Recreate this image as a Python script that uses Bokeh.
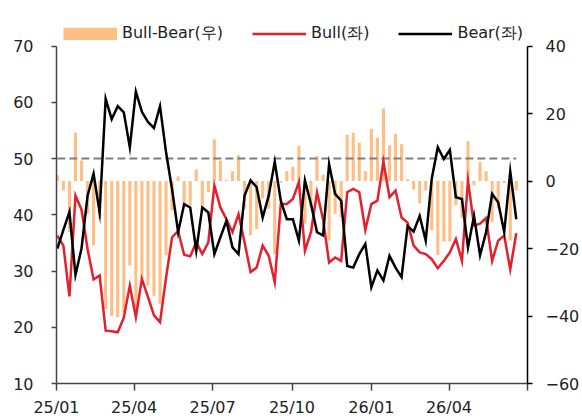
import numpy as np
import pandas as pd
from bokeh.plotting import figure
from bokeh.models import Range1d, LinearAxis, FixedTicker, Legend, LegendItem
from bokeh.embed import file_html
from bokeh.resources import INLINE

# weekly survey dates
dates = pd.date_range("2025-01-02", periods=77, freq="7D")

bull = [36.3, 34.5, 25.5, 43.4, 40.9, 33.9, 28.5, 29.2, 19.4, 19.3,
        19.1, 21.7, 27.4, 21.8, 28.6, 25.4, 22.1, 20.9, 28.8, 36.0,
        37.1, 32.9, 32.6, 35.1, 33.0, 35.1, 45.2, 41.3, 39.2, 36.9,
        40.1, 35.1, 29.8, 30.6, 34.5, 32.7, 28.0, 41.9, 41.9, 42.8,
        45.8, 33.6, 36.9, 44.0, 39.2, 31.5, 32.4, 31.8, 44.0, 44.6,
        44.0, 37.3, 41.9, 42.5, 49.4, 43.1, 44.3, 39.5, 38.6, 34.5,
        33.3, 33.0, 32.1, 30.5, 31.8, 33.3, 35.7, 31.8, 46.1, 38.1,
        38.4, 39.4, 31.8, 35.4, 36.3, 30.3, 36.7]

bear = [34.0, 37.3, 40.5, 29.3, 34.0, 43.4, 47.3, 40.4, 60.6, 57.0,
        59.3, 58.2, 52.0, 61.9, 58.3, 56.5, 55.4, 59.3, 51.1, 44.5,
        36.9, 41.9, 41.3, 33.6, 41.3, 40.4, 33.0, 36.0, 38.9, 34.2,
        33.0, 43.4, 46.1, 44.9, 39.5, 43.4, 49.4, 42.5, 39.2, 39.2,
        35.4, 46.1, 41.9, 36.9, 36.3, 49.0, 43.7, 42.5, 30.9, 30.6,
        33.0, 34.8, 27.1, 30.1, 28.3, 32.7, 30.6, 28.9, 38.0, 37.0,
        39.8, 35.4, 46.4, 52.0, 49.9, 51.5, 43.1, 42.8, 34.2, 39.8,
        32.8, 36.9, 43.7, 42.2, 36.9, 47.7, 39.2]

spread = [1.7, -2.8, -15.1, 14.3, 6.1, -9.7, -19.1, -11.3, -37.9, -39.9,
          -40.4, -38.9, -25.0, -38.9, -29.0, -31.0, -34.0, -36.4, -22.1, -8.7,
          1.3, -7.5, -7.2, 3.4, -7.2, -3.3, 12.3, 6.1, 0.4, 2.9,
          7.6, -8.2, -16.1, -14.2, -5.2, -8.2, -21.6, -0.5, 2.9, 4.2,
          10.4, -12.7, -7.7, 7.4, 1.9, -17.6, -9.7, -10.7, 13.6, 14.3,
          11.3, 2.9, 15.4, 12.8, 21.5, 10.6, 13.9, 10.9, 0.5, -2.5,
          -6.7, -2.8, -14.6, -21.9, -17.9, -17.9, -7.2, -11.0, 11.8, -1.3,
          5.6, 2.9, -12.2, -8.2, -0.6, -17.6, -2.8]

ref_level = 50
left_ticks = [10, 20, 30, 40, 50, 60, 70]
right_ticks = [-60, -40, -20, 0, 20, 40]
right_labels = ["\u221260", "\u221240", "\u221220", "0", "20", "40"]
quarter_starts = ["2025-01-01", "2025-04-01", "2025-07-01", "2025-10-01",
                  "2026-01-01", "2026-04-01", "2026-07-01"]
quarter_labels = ["25/01", "25/04", "25/07", "25/10", "26/01", "26/04", ""]

FONT = "DejaVu Sans"
BAR_COLOR = "#FFBE84"
RED = "#E3202B"

# layout: the frame reaches above the axes' top (70 / 40) to hold the legend
FRAME_H = 365
AXIS_PX = 337.5  # pixel length of the drawn axes
left_top = left_ticks[0] + (left_ticks[-1] - left_ticks[0]) * FRAME_H / AXIS_PX
right_top = right_ticks[0] + (right_ticks[-1] - right_ticks[0]) * FRAME_H / AXIS_PX

q_ms = [pd.Timestamp(d).value / 1e6 for d in quarter_starts]

p = figure(x_axis_type="datetime",
           x_range=Range1d(start=pd.Timestamp(quarter_starts[0]), end=pd.Timestamp(quarter_starts[-1])),
           y_range=Range1d(left_ticks[0], left_top),
           frame_width=471, frame_height=FRAME_H,
           min_border_left=56, min_border_top=18, min_border_right=5, min_border_bottom=5,
           toolbar_location=None, output_backend="svg")
p.extra_y_ranges = {"right": Range1d(right_ticks[0], right_top)}
p.xgrid.visible = False
p.ygrid.visible = False
p.outline_line_color = None
p.background_fill_color = "white"
p.border_fill_color = "white"

bar_w = 3.6 * 24 * 3600 * 1000
bars = p.vbar(x=dates, top=spread, bottom=0, width=bar_w, y_range_name="right",
              fill_color=BAR_COLOR, line_color=None)
p.line(x=[dates[0], dates[-1]], y=[ref_level, ref_level], line_color="#7F7F7F",
       line_width=2, line_dash="8 4")
bull_line = p.line(x=dates, y=bull, line_color=RED, line_width=2.5, line_join="miter")
bear_line = p.line(x=dates, y=bear, line_color="black", line_width=2.5, line_join="miter")
# legend swatch for the bars (a full-width block like the reference); draws nothing in the plot
bar_swatch = p.line(x=dates[:2], y=np.array([np.nan, np.nan]), line_color=BAR_COLOR,
                    line_width=12.5, line_cap="butt")

# left axis
ya = p.yaxis[0]
ya.bounds = (left_ticks[0], left_ticks[-1])
ya.ticker = FixedTicker(ticks=left_ticks)
ya.major_tick_out = 5
ya.major_tick_in = 0
ya.minor_tick_out = 0
ya.minor_tick_in = 0
ya.axis_line_color = "#444444"
ya.axis_line_width = 1.5
ya.major_tick_line_color = "#444444"
ya.major_tick_line_width = 1.5
ya.major_label_standoff = 18
ya.major_label_text_font = FONT
ya.major_label_text_font_size = "16px"
ya.major_label_text_color = "#222222"

# right axis
ra = LinearAxis(y_range_name="right", ticker=FixedTicker(ticks=right_ticks),
                bounds=(right_ticks[0], right_ticks[-1]),
                major_label_overrides={t: l for t, l in zip(right_ticks, right_labels)})
ra.major_tick_out = 5
ra.major_tick_in = 0
ra.minor_tick_out = 0
ra.minor_tick_in = 0
ra.axis_line_color = "black"
ra.axis_line_width = 1.5
ra.major_tick_line_color = "black"
ra.major_tick_line_width = 1.5
ra.major_label_standoff = 13
ra.major_label_text_font = FONT
ra.major_label_text_font_size = "16px"
ra.major_label_text_color = "#222222"
p.add_layout(ra, "right")

# bottom axis
xa = p.xaxis[0]
xa.ticker = FixedTicker(ticks=q_ms)
xa.major_label_overrides = {t: l for t, l in zip(q_ms, quarter_labels)}
xa.major_tick_out = 7
xa.major_tick_in = 0
xa.minor_tick_out = 0
xa.minor_tick_in = 0
xa.axis_line_color = "#444444"
xa.axis_line_width = 1.5
xa.major_tick_line_color = "#444444"
xa.major_tick_line_width = 1.5
xa.major_label_standoff = 7
xa.major_label_text_font = FONT
xa.major_label_text_font_size = "16px"
xa.major_label_text_color = "#222222"

legend = Legend(items=[LegendItem(label="Bull-Bear(우)", renderers=[bar_swatch]),
                       LegendItem(label="Bull(좌)", renderers=[bull_line]),
                       LegendItem(label="Bear(좌)", renderers=[bear_line])],
                location=(7, 339), orientation="horizontal",
                glyph_width=54, glyph_height=13, label_standoff=5, spacing=29,
                padding=0, margin=0, border_line_color=None, background_fill_alpha=0,
                label_text_font=FONT, label_text_font_size="16px",
                label_text_color="#222222")
p.add_layout(legend)

open("out.html", "w").write(file_html(p, INLINE))
